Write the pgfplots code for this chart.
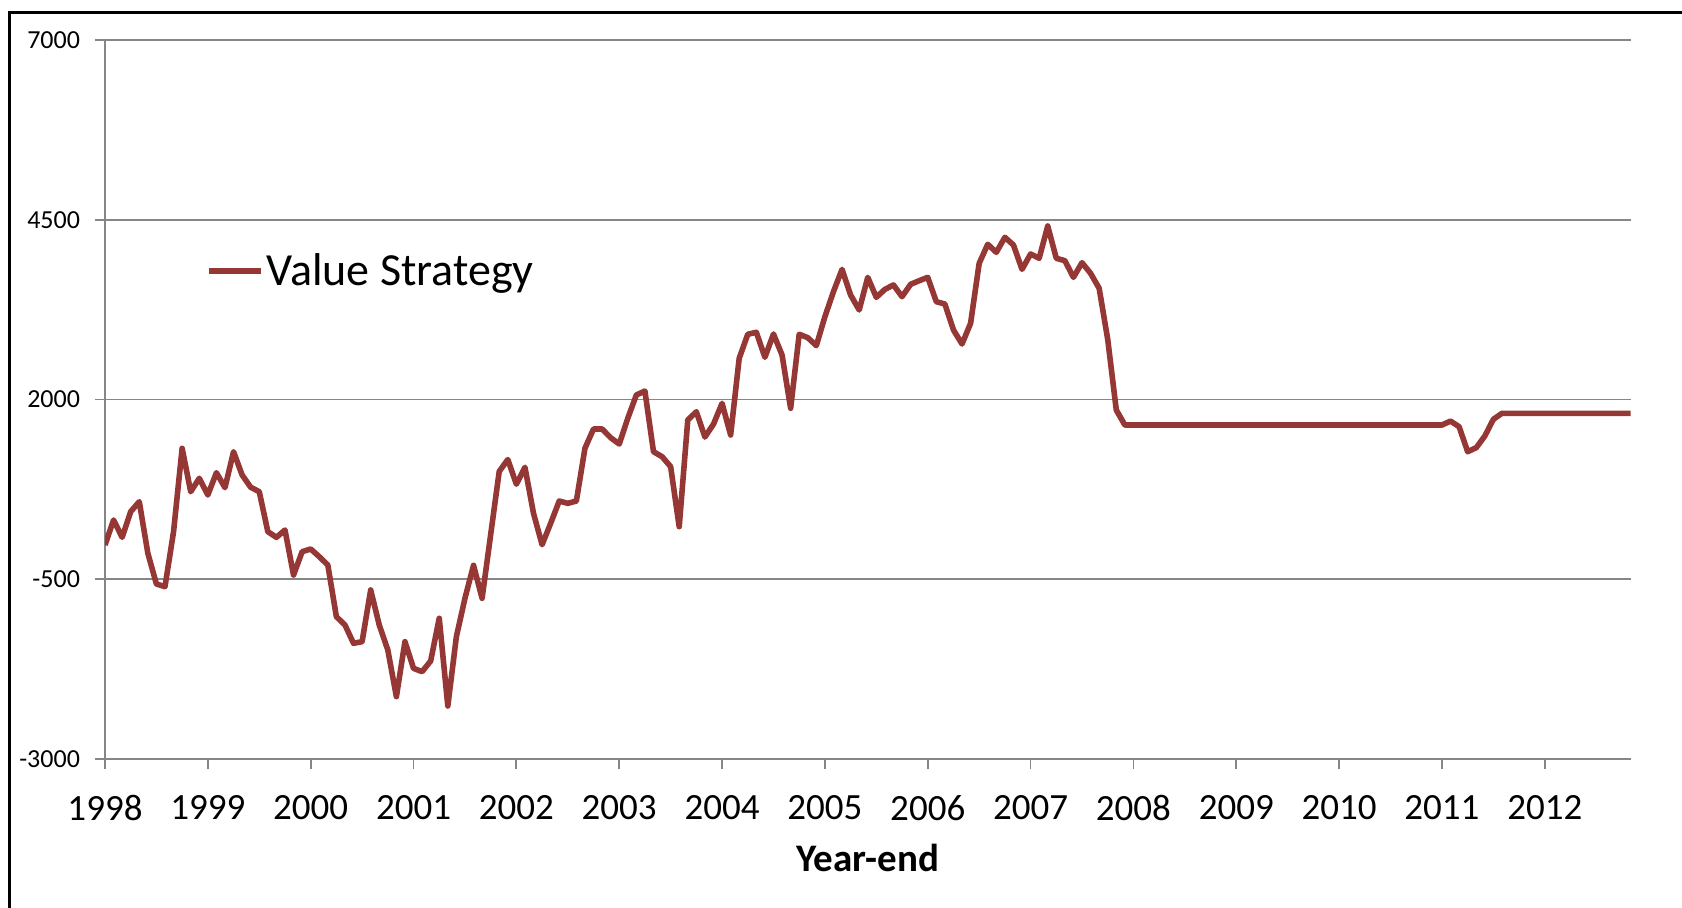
\documentclass[border=0pt]{standalone}
\usepackage{pgfplots}
\pgfplotsset{compat=1.18}
\usepackage{fontspec}
\setmainfont{Carlito}
\definecolor{vsred}{RGB}{149,55,53}
\definecolor{gridgray}{RGB}{134,134,134}
\begin{document}
\begin{tikzpicture}
\begin{axis}[
  scale only axis, width=762.75bp, height=359.5bp,
  at={(0,0)}, anchor=south west,
  xmin=0, xmax=178, ymin=-3000, ymax=7000,
  axis x line*=bottom, axis y line*=left,
  axis line style={gridgray, line width=0.9bp, -},
  ymajorgrids, grid style={gridgray, line width=0.9bp},
  tick style={gridgray, line width=0.9bp},
  major tick length=5bp, tick align=outside,
  xtick={0,12,24,36,48,60,72,84,96,108,120,132,144,156,168},
  xticklabels={1998,1999,2000,2001,2002,2003,2004,2005,2006,2007,2008,2009,2010,2011,2012},
  ytick={-3000,-500,2000,4500,7000},
  yticklabels={-3000,-500,2000,4500,7000},
  xticklabel style={font=\fontsize{18.5bp}{22bp}\selectfont, yshift=-9.5bp},
  yticklabel style={font=\fontsize{13bp}{15bp}\selectfont, xshift=-4bp},
  xlabel={Year-end},
  xlabel style={font=\bfseries\fontsize{19.5bp}{23bp}\selectfont, at={(axis description cs:0.5,0)}, anchor=center, yshift=-49.5bp},
  legend style={at={(0.0660,0.6787)}, anchor=west, draw=none, fill=none, inner sep=0pt,
    font=\fontsize{23bp}{27bp}\selectfont, nodes={inner sep=1.5bp}},
  legend image code/.code={\draw[#1] (0bp,0bp) -- (26bp,0bp);},
]
\addplot[vsred, line width=2.8bp, line join=round] coordinates {
(0,-24) (1,324) (2,83) (3,440) (4,579) (5,-139) (6,-566) (7,-603) (8,162) (9,1321)
(10,718) (11,904) (12,672) (13,982) (14,774) (15,1274) (16,950) (17,779) (18,718) (19,162)
(20,83) (21,185) (22,-441) (23,-117) (24,-79) (25,-186) (26,-302) (27,-1021) (28,-1136) (29,-1391)
(30,-1368) (31,-649) (32,-1136) (33,-1484) (34,-2133) (35,-1368) (36,-1739) (37,-1785) (38,-1637) (39,-1043)
(40,-2263) (41,-1299) (42,-765) (43,-306) (44,-765) (45,120) (46,1000) (47,1165) (48,822) (49,1057)
(50,417) (51,-20) (52,278) (53,588) (54,556) (55,588) (56,1321) (57,1590) (58,1590) (59,1469)
(60,1381) (61,1739) (62,2063) (63,2118) (64,1274) (65,1205) (66,1066) (67,231) (68,1715) (69,1830)
(70,1478) (71,1657) (72,1947) (73,1506) (74,2573) (75,2907) (76,2935) (77,2587) (78,2911) (79,2619)
(80,1878) (81,2907) (82,2860) (83,2749) (84,3152) (85,3500) (86,3810) (87,3453) (88,3245) (89,3699)
(90,3421) (91,3532) (92,3593) (93,3430) (94,3602) (95,3652) (96,3699) (97,3360) (98,3328) (99,2967)
(100,2772) (101,3060) (102,3894) (103,4159) (104,4047) (105,4256) (106,4149) (107,3810) (108,4024) (109,3964)
(110,4413) (111,3964) (112,3931) (113,3699) (114,3903) (115,3755) (116,3547) (117,2837) (118,1854) (119,1645)
(156,1645) (157,1700) (158,1621) (159,1274) (160,1330) (161,1492) (162,1725) (163,1808)
(178,1808)
};
\addlegendentry{Value Strategy}
\end{axis}
\draw[black, line width=1.5bp] (-47.5bp,-80bp) -- (-47.5bp,373bp) -- (800bp,373bp);
\pgfresetboundingbox
\useasboundingbox (-52.5bp,-74.5bp) rectangle (788.5bp,379.5bp);
\end{tikzpicture}
\end{document}
